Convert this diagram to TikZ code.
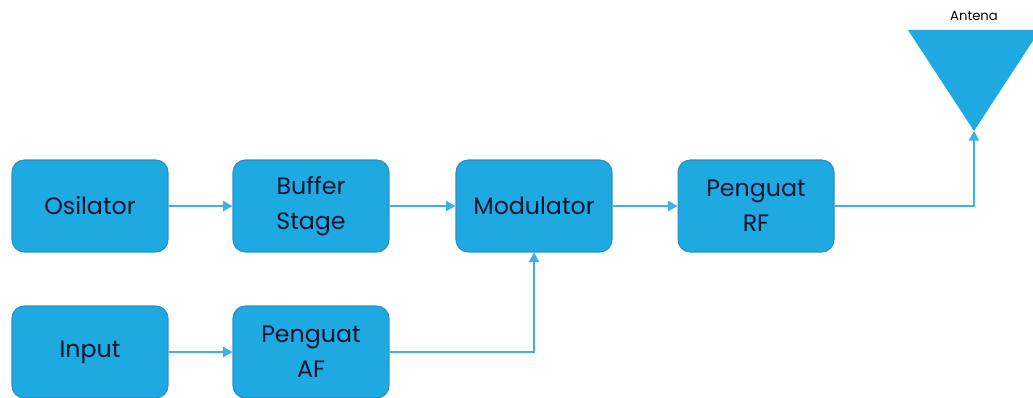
\documentclass[tikz,border=0pt]{standalone}
\usepackage{fontspec}
\setmainfont{Poppins}
\usetikzlibrary{arrows.meta}
\definecolor{boxblue}{HTML}{1EA9E1}
\definecolor{boxedge}{HTML}{2B8FC4}
\definecolor{wireblue}{HTML}{3DB2E6}
\definecolor{textnavy}{HTML}{0B1634}
\tikzset{
  block/.style={draw=boxedge, fill=boxblue, rounded corners=7pt, line width=0.6pt,
    minimum width=3.12cm, minimum height=1.84cm, align=center, text=textnavy,
    font=\fontsize{13.5}{20}\selectfont},
  wire/.style={draw=wireblue, line width=0.8pt, -{Triangle[length=5.5pt,width=6pt]}}
}
\begin{document}
\begin{tikzpicture}[x=0.02cm, y=-0.02cm]
				\clip (0,0) rectangle (1033,398);
				% blocks
				\node[block] (osc) at(90, 206){Osilator};
				\node[block] (buf) at(311, 206){Buffer\\Stage};
				\node[block] (mod) at(534, 206){Modulator};
				\node[block] (rf) at(756, 206){Penguat\\RF};
				\node[block] (inp) at(90, 352){Input};
				\node[block] (af) at(311, 352){Penguat\\AF};
				% antenna
				\fill[boxblue] (908, 30) -- (1040, 30) -- (974, 131) -- cycle;
				\coordinate (ant) at(974, 131);
				\node[font=\fontsize{7.5}{9}\selectfont] (antlbl) at(974, 16){Antena};
				% wires
				\draw[wire] (osc) -- (buf);
				\draw[wire] (buf) -- (mod);
				\draw[wire] (mod) -- (rf);
				\draw[wire] (inp) -- (af);
				\draw[wire] (af.east) -| (mod.south);
				\draw[wire] (rf.east) -| (ant);
			\end{tikzpicture}
\end{document}
